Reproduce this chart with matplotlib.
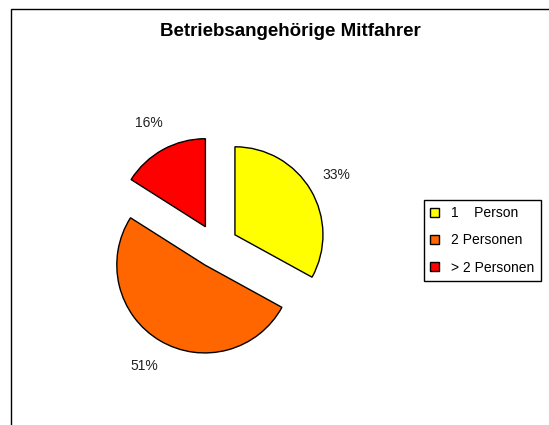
import matplotlib
matplotlib.use('Agg')
import matplotlib.pyplot as plt
from matplotlib.patches import Rectangle

plt.rcParams['font.family'] = ['Liberation Sans', 'DejaVu Sans']

title = 'Betriebsangehörige Mitfahrer'
categories = ['1    Person', '2 Personen', '> 2 Personen']
shares = [33, 51, 16]
colors = ['#FFFF00', '#FF6600', '#FF0000']

W, H = 549, 425
cx, cy, r = 216, 246, 88  # pie centre and radius in pixels

fig = plt.figure(figsize=(W / 100, H / 100), dpi=100)
ax = fig.add_axes([0, 0, 1, 1])

wedges, texts, autotexts = ax.pie(
    shares, colors=colors, explode=[0.25] * 3, startangle=90,
    counterclock=False, autopct='%1.0f%%', pctdistance=1.34,
    wedgeprops=dict(edgecolor='black', linewidth=1.0),
    textprops=dict(fontsize=10, color='#222222'))

ax.set_aspect('auto')
ax.set_xlim(-cx / r, (W - cx) / r)
ax.set_ylim(-(H - cy) / r, cy / r)
ax.axis('off')

fig.text(290 / W, 1 - 32 / H, title, ha='center', va='center',
         fontsize=13.5, fontweight='bold')

# chart area frame (right and bottom are cut off in the original)
fig.add_artist(Rectangle((11 / W, -0.1), 1.2, 1 - 9 / H + 0.1,
                         transform=fig.transFigure, fill=False,
                         edgecolor='black', linewidth=1.0, clip_on=False))

leg = fig.legend(wedges, categories, loc='upper left',
                 bbox_to_anchor=(424 / W, 1 - 200 / H), borderaxespad=0,
                 fontsize=10, frameon=True, fancybox=False,
                 edgecolor='black', framealpha=1, labelspacing=0.95,
                 handlelength=0.6, handleheight=0.6, handletextpad=0.9,
                 borderpad=0.45)
leg.get_frame().set_linewidth(1.0)

fig.savefig('out.png', dpi=100)
